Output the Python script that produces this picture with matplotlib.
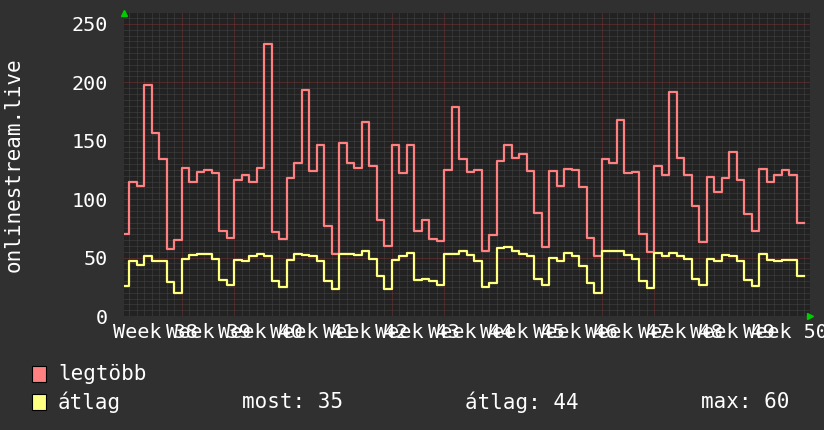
import matplotlib as mpl
import matplotlib.pyplot as plt
import numpy as np
from matplotlib.patches import Rectangle

mpl.use("Agg")

# daily values, day -1 .. day 89 (day 0 = start of week 38)
peak = [70, 115, 111, 198, 157, 134, 57, 65, 127, 115, 123, 125, 122, 73, 67,
        116, 121, 115, 127, 233, 72, 66, 118, 131, 193, 124, 146, 77, 53, 148,
        131, 127, 166, 128, 82, 60, 146, 122, 146, 73, 82, 66, 64, 125, 179,
        134, 123, 125, 56, 69, 133, 146, 135, 139, 124, 88, 59, 124, 111, 126,
        125, 110, 67, 51, 134, 131, 168, 122, 123, 70, 55, 128, 121, 192, 135,
        121, 94, 63, 119, 106, 118, 140, 116, 87, 73, 126, 115, 121, 125, 121, 80]
avg = [26, 47, 44, 51, 47, 47, 29, 20, 49, 52, 53, 53, 49, 31, 27,
       48, 47, 51, 53, 51, 30, 25, 48, 53, 52, 51, 47, 30, 23, 53,
       53, 52, 56, 49, 34, 23, 48, 51, 54, 31, 32, 30, 27, 53, 53,
       56, 52, 47, 25, 28, 58, 59, 56, 53, 51, 32, 27, 50, 47, 54,
       51, 43, 28, 20, 56, 56, 56, 52, 49, 30, 24, 54, 51, 54, 51,
       49, 32, 27, 49, 47, 52, 51, 47, 31, 26, 53, 48, 47, 48, 48, 34]
weeks = list(range(38, 51))
yticks = [0, 50, 100, 150, 200, 250]

series_names = ["legtöbb", "átlag"]
series_colors = ["#ff8080", "#ffff80"]
stats = ["most: 35", "átlag: 44", "max: 60"]

plt.rcParams["font.family"] = ["DejaVu Sans Mono", "DejaVu Sans"]

W, H = 824, 430
fig = plt.figure(figsize=(W / 100, H / 100), dpi=100, facecolor="#303030")
left, right, top, bottom = 124, 810, 13.3, 316.1
ax = fig.add_axes([left / W, (H - bottom) / H, (right - left) / W, (bottom - top) / H])
ax.set_facecolor("#222222")

days = np.arange(-1, len(peak) - 1)
xs = np.r_[days, days[-1] + 1]

ax.set_xlim(-0.7, 90.8)
ax.set_ylim(0, 259)

# grid, rrdtool style dots
dot = (0, (1, 1))
for v in np.arange(5, 259, 5):
    if v % 50:
        ax.axhline(v, color="#454545", lw=0.72, ls=dot, zorder=1)
for d in range(0, 91):
    if d % 7:
        ax.axvline(d, color="#454545", lw=0.72, ls=dot, zorder=1)
for v in yticks[1:]:
    ax.axhline(v, color="#7a3333", lw=0.72, ls=dot, zorder=2)
for d in range(0, 91, 7):
    ax.axvline(d, color="#7a3333", lw=0.72, ls=dot, zorder=2)

for vals, c in zip([peak, avg], series_colors):
    ax.step(xs, np.r_[vals, vals[-1]], where="post", color=c, lw=1.6, zorder=3)

for s in ax.spines.values():
    s.set_visible(False)

ax.set_yticks(yticks)
ax.set_yticklabels([str(v) for v in yticks])
ax.set_xticks([7 * i + 3.5 for i in range(len(weeks))])
ax.set_xticklabels(["Week {}".format(w) for w in weeks])
ax.tick_params(axis="y", length=0, pad=11.5, labelsize=14.5, labelcolor="white")
ax.tick_params(axis="x", length=0, pad=5, labelsize=14.5, labelcolor="white")

# arrows
ax.plot([0.0], [1.0], marker="^", ms=4.5, color="#00cc00", transform=ax.transAxes,
        clip_on=False, zorder=5)
ax.plot([1.0], [0.0], marker=">", ms=4.5, color="#00cc00", transform=ax.transAxes,
        clip_on=False, zorder=5)

fig.text(14 / W, 1 - 164.5 / H, "onlinestream.live", rotation=90, color="white",
         fontsize=15, ha="center", va="center")

# legend
for i, (name, c) in enumerate(zip(series_names, series_colors)):
    y0 = 366 + 28 * i
    fig.patches.append(Rectangle((32 / W, 1 - (y0 + 16) / H), 14 / W, 16 / H,
                                 transform=fig.transFigure, facecolor=c,
                                 edgecolor="black", lw=0.8))
    fig.text(58 / W, 1 - (y0 + 8) / H, name, color="white", fontsize=15,
             ha="left", va="center")
for s, x in zip(stats, [242, 465, 701]):
    fig.text(x / W, 1 - 402 / H, s, color="white", fontsize=15, ha="left", va="center")

fig.savefig("out.png", dpi=100, facecolor=fig.get_facecolor())
